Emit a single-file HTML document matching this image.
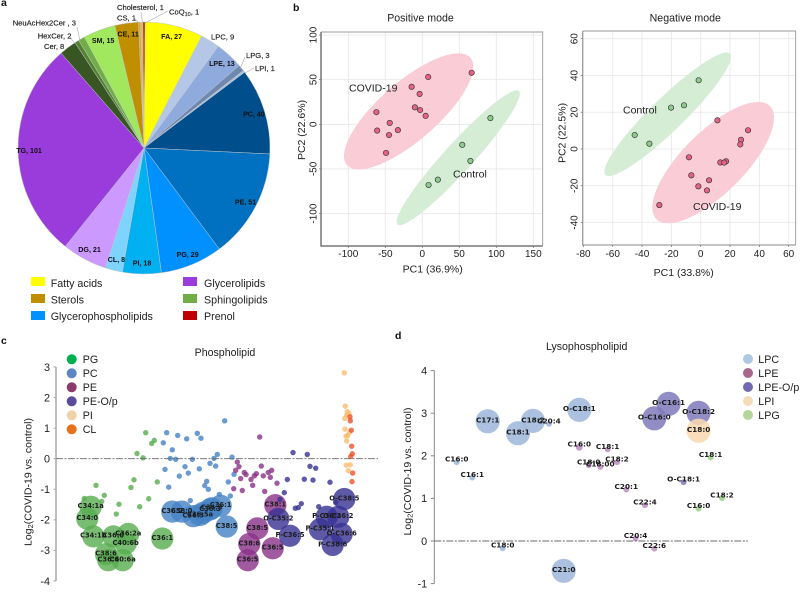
<!DOCTYPE html>
<html lang="en">
<head>
<meta charset="utf-8">
<title>Lipidomics figure</title>
<style>
html,body{margin:0;padding:0;background:#fff;}
svg{display:block;font-family:"Liberation Sans",Arial,sans-serif;fill:#222;}
.tick{font-size:10px;}
.axt{font-size:10.5px;}
.ttl{font-size:10.6px;}
.leg{font-size:10.7px;}
.pan{font-size:10.5px;font-weight:bold;fill:#111;}
.pout{font-size:7.6px;stroke:#222;stroke-width:.15px;}
.ldr{stroke:#aaa;stroke-width:.6;fill:none;}
.blab{font-family:"DejaVu Sans",sans-serif;font-weight:bold;fill:#1c1c1c;}
</style>
</head>
<body>
<svg id="fig" width="800" height="605" viewBox="0 0 800 605" xmlns="http://www.w3.org/2000/svg">
  <rect width="800" height="605" fill="#fff"/>

  <text class="pan" x="1" y="6">a</text>
  <text class="pan" x="293" y="11">b</text>
  <text class="pan" x="1" y="344">c</text>
  <text class="pan" x="395" y="339">d</text>

  <g id="pie"></g>
  <g>
    <path class="ldr" d="M141 12L142.5 23"/>
    <path class="ldr" d="M168 11L145 23"/>
    <path class="ldr" d="M134 18L139 23"/>
    <path class="ldr" d="M77 27L80 41"/>
    <path class="ldr" d="M70 37L75 44"/>
    <path class="ldr" d="M245 57L240 69"/>
    <path class="ldr" d="M254 68L245 73"/>
    <text class="pout" x="117" y="10">Cholesterol, 1</text>
    <text class="pout" x="169" y="14.5">CoQ<tspan font-size="5.5" dy="1.5">10</tspan><tspan dy="-1.5">, 1</tspan></text>
    <text class="pout" x="117" y="20.5">CS, 1</text>
    <text class="pout" x="12.7" y="25.5">NeuAcHex2Cer , 3</text>
    <text class="pout" x="37.7" y="38.5">HexCer, 2</text>
    <text class="pout" x="44" y="49">Cer, 8</text>
    <text class="pout" x="211" y="39.5">LPC, 9</text>
    <text class="pout" x="246" y="58">LPG, 3</text>
    <text class="pout" x="255" y="71">LPI, 1</text>
  </g>
  <g>
    <rect x="31" y="277" width="14" height="9" fill="#ffff00"/>
    <text class="leg" x="50.7" y="287">Fatty acids</text>
    <rect x="31" y="294" width="14" height="9" fill="#bf8f00"/>
    <text class="leg" x="50.7" y="303.5">Sterols</text>
    <rect x="31" y="311" width="14" height="9" fill="#0091ff"/>
    <text class="leg" x="50.7" y="320">Glycerophospholipids</text>
    <rect x="183" y="277" width="14" height="9" fill="#9a3cdb"/>
    <text class="leg" x="204" y="287">Glycerolipids</text>
    <rect x="183" y="294" width="14" height="9" fill="#70ad47"/>
    <text class="leg" x="204" y="303.5">Sphingolipids</text>
    <rect x="183" y="311" width="14" height="9" fill="#c00000"/>
    <text class="leg" x="204" y="320">Prenol</text>
  </g>

  <g id="pcaPos"></g>
  <g id="pcaNeg"></g>
  <text class="ttl" x="420.5" y="21.7" text-anchor="middle">Positive mode</text>
  <text class="ttl" x="685.3" y="21.7" text-anchor="middle">Negative mode</text>
  <text class="axt" x="432.7" y="272.7" text-anchor="middle">PC1 (36.9%)</text>
  <text class="axt" transform="translate(305.2 130) rotate(-90)" text-anchor="middle">PC2 (22.6%)</text>
  <text class="axt" x="683.7" y="276" text-anchor="middle">PC1 (33.8%)</text>
  <text class="axt" transform="translate(565.5 133) rotate(-90)" text-anchor="middle">PC2 (22.5%)</text>
  <text class="axt" x="349" y="91.7">COVID-19</text>
  <text class="axt" x="453" y="177.7">Control</text>
  <text class="axt" x="623" y="113.7">Control</text>
  <text class="axt" x="693" y="210">COVID-19</text>

  <g id="bubC"></g>
  <text class="ttl" x="225" y="356" text-anchor="middle">Phospholipid</text>
  <text class="axt" transform="translate(31.5 482) rotate(-90)" text-anchor="middle">Log<tspan font-size="7.5" dy="1.5">2</tspan><tspan dy="-1.5">(COVID-19 vs. control)</tspan></text>
  <g>
    <circle cx="71.7" cy="359.3" r="5" fill="#00b050"/>
    <text class="leg" x="82.7" y="363.2">PG</text>
    <circle cx="71.7" cy="373.3" r="5" fill="#5b87c5"/>
    <text class="leg" x="82.7" y="377.2">PC</text>
    <circle cx="71.7" cy="387.3" r="5" fill="#8c3a6e"/>
    <text class="leg" x="82.7" y="391.2">PE</text>
    <circle cx="71.7" cy="401.3" r="5" fill="#5c4a9c"/>
    <text class="leg" x="82.7" y="405.2">PE-O/p</text>
    <circle cx="71.7" cy="415.3" r="5" fill="#f0d0a8"/>
    <text class="leg" x="82.7" y="419.2">PI</text>
    <circle cx="71.7" cy="429.3" r="5" fill="#e8701a"/>
    <text class="leg" x="82.7" y="433.2">CL</text>
  </g>

  <g id="bubD"></g>
  <text class="ttl" x="586.7" y="350" text-anchor="middle">Lysophospholipid</text>
  <text class="axt" transform="translate(411 471.5) rotate(-90)" text-anchor="middle">Log<tspan font-size="7.5" dy="1.5">2</tspan><tspan dy="-1.5">(COVID-19 vs. control)</tspan></text>
  <g>
    <circle cx="748" cy="359" r="5" fill="#afc8e4"/>
    <text class="leg" x="758.3" y="363">LPC</text>
    <circle cx="748" cy="373" r="5" fill="#a8678c"/>
    <text class="leg" x="758.3" y="377">LPE</text>
    <circle cx="748" cy="387" r="5" fill="#7269b0"/>
    <text class="leg" x="758.3" y="391">LPE-O/p</text>
    <circle cx="748" cy="401" r="5" fill="#f3dcb8"/>
    <text class="leg" x="758.3" y="405">LPI</text>
    <circle cx="748" cy="415" r="5" fill="#b5d69a"/>
    <text class="leg" x="758.3" y="419">LPG</text>
  </g>
</svg>

<script>
/* ---------- Panel a data ---------- */
const pieNames = ['CoQ10','FA','LPC','LPE','LPG','LPI','PC','PE','PG','PI','CL','DG','TG','Cer','HexCer','NeuAcHex2Cer','SM','CE','CS','Cholesterol'];
const pieValues = [1,27,9,13,3,1,40,51,29,18,8,21,101,8,2,3,15,11,1,1];
const pieColors = ['#c00000','#ffff00','#b4c7e7','#8faadc','#6f88b0','#b0c0d8','#004f8c','#0070c0','#0091ff','#00b0f0','#7fd4ff','#cc99ff','#9a3cdb','#375623','#548235','#70ad47','#a2e85f','#bf8f00','#d9a93a','#e5b850'];
const pieInside = [0,1,0,1,0,0,1,1,1,1,1,1,1,0,0,0,1,1,0,0];

/* ---------- Panel b data ---------- */
const posXTicks = [-100,-50,0,50,100,150];
const posYTicks = [-100,-50,0,50,100];
const posCovidPC1 = [66.7,8,-14.4,-3.6,-10,-3,4.5,-62,-44,-61,-33,-45,-49];
const posCovidPC2 = [57.7,53,42,34,19,16,9.5,13.6,1.5,-7,-6.5,-12,-32];
const posControlPC1 = [92,54,65,21,8.5];
const posControlPC2 = [7,-23,-41,-62,-68];
const posCovidEllipse = [-18.5,14.5,87.4,65,0.77];
const posControlEllipse = [48.6,-37.4,83.3,75.5,0.95];

const negXTicks = [-80,-60,-40,-20,0,20,40,60];
const negYTicks = [-40,-20,0,20,40,60];
const negCovidPC1 = [11.4,32.3,27.5,27,-8,13.4,17.3,16,-6.4,5.7,-1.6,4.3,-28.2];
const negCovidPC2 = [15.6,10.2,5,2.5,-4.5,-7.3,-6.7,-7.4,-14.3,-17,-20.3,-22.5,-30.5];
const negControlPC1 = [-1.4,-11.4,-20.2,-45,-35];
const negControlPC2 = [37.4,23.8,22.5,7.6,2.9];
const negCovidEllipse = [8.5,-7.4,41.5,33,0.74];
const negControlEllipse = [-22.5,18.9,43.2,33.6,0.93];

/* ---------- Panel c data ---------- */
const cYTicks = [3,2,1,0,-1,-2,-3,-4];
const pgRank = [89.7,98.3,95.7,81,87,78,75,101.3,40,48.3,45.7,28.3,63,92.7,83.7,60.3,34.7,31.3,37.3,57.3,72.3,69.7,106.3,50,52.3,66.7];
const pgFold = [.85,.6,.5,.17,.03,-.69,-.94,-.76,-.87,-1.2,-1.4,-1.3,-1.49,-1.31,-1.57,-1.81,-1.57,-1.96,-2.54,-2.54,-2.46,-2.77,-2.61,-3.12,-3.32,-3.32];
const pgSize = [1,1,1,1,1,1,1,1,1,1,1,1,1,1,1,1,17,17,17,17,17,17,17,17,17,17];
const pgNames = ['','','','','','','','','','','','','','','','','C34:1a','C34:0','C34:1b','C36:0','C36:2a','C40:6b','C36:1','C38:6','C36:6','C40:6a'];

const pcRank = [110.7,121.7,130.7,141.3,145,107.3,116.3,114.3,119.7,136.3,154,129,143.3,109,123.3,132.3,112.7,150.7,148.7,152.3,134.3,168.7,161.3,158,176,159.7,178,172.3,163.3,174.3,116.3,125.7,137.3,144,147.3,154,155.7,164.7,170.7];
const pcFold = [.85,.76,.65,.83,.67,.52,.29,.01,-.02,-.02,-.15,-.26,-.33,-.35,-.57,-.47,-.93,-.74,-.88,-1,-1.37,1.24,.14,.01,.05,-.24,-.51,-.76,-1.17,-1.22,-1.73,-1.73,-1.88,-1.84,-1.77,-1.66,-1.62,-1.54,-2.22];
const pcSize = [1,1,1,1,1,1,1,1,1,1,1,1,1,1,1,1,1,1,1,1,1,1,1,1,1,1,1,1,1,1,17,17,17,17,17,17,17,17,17];
const pcNames = ['','','','','','','','','','','','','','','','','','','','','','','','','','','','','','','C36:2','C38:0','C36:3','C36:5a','','C36:3','C34:3','C36:1','C38:5'];

const peRank = [203.7,181.3,183,179.7,205.3,188.3,190,200.3,198.3,207.3,195,184.7,215.7,212.3,214.3,221,196.7,177.7,186.3,208.7,219.3,201.3,193.3,216.7,191.7];
const peFold = [.71,-.11,-.26,-.38,-.24,-.45,-.52,-.49,-.56,-.56,-.68,-.65,-.38,-.45,-.61,-.8,-.87,-.98,-1.04,-1.07,-1.52,-2.28,-2.79,-2.93,-3.32];
const peSize = [1,1,1,1,1,1,1,1,1,1,1,1,1,1,1,1,1,1,1,1,17,17,17,17,17];
const peNames = ['','','','','','','','','','','','','','','','','','','','','C38:1','C38:5','C38:6','C36:5','C36:5'];

const poRank = [237,251.3,254,259.7,231.3,248.3,257,274,228.3,245.3,242.3,239.3,262.7,279.7,224,288.3,222.3,234,270.7,282.3,264,285.7,276.7];
const poFold = [.2,.14,-.25,-.31,-.68,-.67,-.7,-.77,-1.11,-1.47,-1.6,-1.62,-1.57,-1.43,-1.33,-1.32,-1.97,-2.52,-1.9,-1.9,-2.31,-2.46,-2.82];
const poSize = [1,1,1,1,1,1,1,1,1,1,1,1,1,1,1,17,17,17,17,17,17,17,17];
const poNames = ['','','','','','','','','','','','','','','','O-C38:5','O-C35:2','P-C36:5','P-C36:2','O-C36:2','P-C35:1','O-C36:6','P-C38:6'];

const piRank = [288.3,289.3,291.3,293,290.7,288.7,289,293.7,291.7,290,290.7,290.3,294.3,292.3];
const piFold = [2.81,1.72,1.54,1.48,1.43,1.32,.97,.87,.76,.74,.58,-.21,-.2,-.39];
const piSize = [1,1,1,1,1,1,1,1,1,1,1,1,1,1];

const clRank = [294,294.3,295.3,295.7,296.3,294.7,296.7,296];
const clFold = [1.37,1.24,.93,.41,.16,.07,-.47,-.75];
const clSize = [1,1,1,1,1,1,1,1];

/* ---------- Panel d data ---------- */
const dYTicks = [4,3,2,1,0,-1];
const lpcRank = [22.4,38,53.4,83.7,98.7,114.7,145,68.4,129.4];
const lpcFold = [1.85,1.49,2.81,2.53,2.82,2.75,3.08,-.17,-.7];
const lpcSize = [1.2,1.2,20,20,20,1.2,20,1.2,20];
const lpcNames = ['C16:0','C16:1','C17:1','C18:1','C18:2','C20:4','O-C18:1','C18:0','C21:0'];

const lpeRank = [145,154.4,166,173.3,182.7,192,210.7,201.3,220];
const lpeFold = [2.2,1.78,1.74,2.15,1.85,1.21,.84,.06,-.18];
const lpeSize = [1.6,1.2,1.2,1.2,1.2,1.2,1.2,1.2,1.2];
const lpeNames = ['C16:0','C18:0','C18:00','C18:1','C18:2','C20:1','C22:4','C20:4','C22:6'];

const lpoRank = [234.3,220,264.3,249.3];
const lpoFold = [3.22,2.88,3.01,1.38];
const lpoSize = [20,20,20,1.2];
const lpoNames = ['O-C16:1','O-C16:0','O-C18:2','O-C18:1'];

const lpiRank = [264.3];
const lpiFold = [2.59];
const lpiSize = [20];
const lpiNames = ['C18:0'];

const lpgRank = [276.3,287.7,264.3];
const lpgFold = [1.96,1.01,.76];
const lpgSize = [1.2,1.2,1.2];
const lpgNames = ['C18:1','C18:2','C16:0'];

/* ---------- helpers ---------- */
const NS = 'http://www.w3.org/2000/svg';
function make(parent, tag, attrs, text) {
  const el = document.createElementNS(NS, tag);
  for (const k in attrs) el.setAttribute(k, attrs[k]);
  if (text !== undefined) el.textContent = text;
  parent.appendChild(el);
  return el;
}
function linear(d0, d1, r0, r1) {
  return v => r0 + (v - d0) * (r1 - r0) / (d1 - d0);
}
function radiusFromSize(s) { return 2.7 * Math.sqrt(s); }

/* ---------- pie ---------- */
(function () {
  const g = document.getElementById('pie');
  const cx = 144, cy = 148, R = 126, labelR = 115;
  const total = pieValues.reduce((a, b) => a + b, 0);
  let acc = -0.5 * total / 360;
  pieValues.forEach((v, i) => {
    const a0 = acc / total * 2 * Math.PI;
    const a1 = (acc + v) / total * 2 * Math.PI;
    acc += v;
    const large = a1 - a0 > Math.PI ? 1 : 0;
    const d = `M${cx} ${cy}L${cx + R * Math.sin(a0)} ${cy - R * Math.cos(a0)}A${R} ${R} 0 ${large} 1 ${cx + R * Math.sin(a1)} ${cy - R * Math.cos(a1)}Z`;
    const p = make(g, 'path', {d: d, fill: pieColors[i], stroke: '#c4c8cc', 'stroke-width': 0.5});
    
    
  });
  acc = -0.5 * total / 360;
  pieValues.forEach((v, i) => {
    const mid = (acc + v / 2) / total * 2 * Math.PI;
    acc += v;
    if (!pieInside[i]) return;
    const t = make(g, 'text', {
      x: cx + labelR * Math.sin(mid),
      y: cy - labelR * Math.cos(mid) + 2.5,
      'text-anchor': 'middle',
      'font-size': 7.1,
      'font-weight': 'bold',
      fill: '#111'
    }, pieNames[i] + ', ' + v);
    
    
  });
})();

/* ---------- PCA panels ---------- */
function drawPca(gid, box, sx, sy, xTicks, yTicks, ellipses, groups, tickX, tickY, frameColor, axisWidth) {
  const g = document.getElementById(gid);
  xTicks.forEach(t => {
    const l = make(g, 'line', {x1: sx(t), x2: sx(t), y1: box.top, y2: box.bottom, stroke: '#e7e7e7', 'stroke-width': 0.8});
    
    
    const m = make(g, 'line', {x1: sx(t), x2: sx(t), y1: box.bottom, y2: box.bottom + 2, stroke: '#666', 'stroke-width': 0.7});
    
    
    const tl = make(g, 'text', {class: 'tick', x: sx(t), y: tickY, 'text-anchor': 'middle'}, String(t));
    
    
  });
  yTicks.forEach(t => {
    const l = make(g, 'line', {x1: box.left, x2: box.right, y1: sy(t), y2: sy(t), stroke: '#e7e7e7', 'stroke-width': 0.8});
    
    
    const m = make(g, 'line', {x1: box.left - 2, x2: box.left, y1: sy(t), y2: sy(t), stroke: '#666', 'stroke-width': 0.7});
    
    
    const tl = make(g, 'text', {class: 'tick', transform: `translate(${tickX} ${sy(t)}) rotate(-90)`, 'text-anchor': 'middle'}, String(t));
    
    
  });
  ellipses.forEach(e => {
    const [cx, cy, ax, ay, rho] = e.params;
    let d = '';
    for (let k = 0; k <= 96; k++) {
      const t = k / 96 * 2 * Math.PI;
      const dx = cx + ax * Math.cos(t);
      const dy = cy + ay * (rho * Math.cos(t) + Math.sqrt(1 - rho * rho) * Math.sin(t));
      d += (k ? 'L' : 'M') + sx(dx).toFixed(2) + ' ' + sy(dy).toFixed(2);
    }
    const p = make(g, 'path', {d: d + 'Z', fill: e.fill});
    
    
  });
  groups.forEach(s => {
    s.xs.forEach((v, i) => {
      const c = make(g, 'circle', {cx: sx(v), cy: sy(s.ys[i]), r: 2.7, fill: s.fill, stroke: '#3a3a3a', 'stroke-width': 0.7});
      
      
    });
  });
  const f = make(g, 'path', {d: `M${box.left} ${box.top}H${box.right}V${box.bottom}`, fill: 'none', stroke: '#999', 'stroke-width': 0.9});
  
  
  const a = make(g, 'path', {d: `M${box.left} ${box.top}V${box.bottom}H${box.right}`, fill: 'none', stroke: frameColor, 'stroke-width': axisWidth});
  
  
}
drawPca('pcaPos', {left: 321, right: 542.7, top: 32, bottom: 246},
  linear(0, 100, 422.3, 496.3), linear(0, 100, 124.3, 35),
  posXTicks, posYTicks,
  [{params: posCovidEllipse, fill: '#f9ccd6', name: 'covid-ellipse'}, {params: posControlEllipse, fill: '#d5edd5', name: 'control-ellipse'}],
  [{xs: posCovidPC1, ys: posCovidPC2, fill: '#e8608a', name: 'covid-sample'}, {xs: posControlPC1, ys: posControlPC2, fill: '#8bcb8b', name: 'control-sample'}],
  316.5, 257, '#777', 1.5);
drawPca('pcaNeg', {left: 582.7, right: 795.7, top: 31, bottom: 245},
  linear(0, 60, 700.7, 788.7), linear(0, 60, 149, 38.7),
  negXTicks, negYTicks,
  [{params: negCovidEllipse, fill: '#f9ccd6', name: 'covid-ellipse'}, {params: negControlEllipse, fill: '#d5edd5', name: 'control-ellipse'}],
  [{xs: negCovidPC1, ys: negCovidPC2, fill: '#e8608a', name: 'covid-sample'}, {xs: negControlPC1, ys: negControlPC2, fill: '#8bcb8b', name: 'control-sample'}],
  577.5, 257, '#888', 1);

/* ---------- bubble panels ---------- */
function drawBubbles(gid, axisX, axisEnd, sy, ticks, axisColor, axisWidth, tickLeft, labelFont, labelLift, series) {
  const g = document.getElementById(gid);
  const sx = linear(0, 1, axisX, axisX + 1);
  const axis = make(g, 'line', {x1: axisX, x2: axisX, y1: sy(ticks[0]), y2: sy(ticks[ticks.length - 1]), stroke: axisColor, 'stroke-width': axisWidth});
  
  
  ticks.forEach(t => {
    const m = make(g, 'line', {x1: tickLeft, x2: axisX, y1: sy(t), y2: sy(t), stroke: axisColor, 'stroke-width': 1});
    
    
    const tl = make(g, 'text', {x: tickLeft - 3.5, y: sy(t) + 3.8, 'text-anchor': 'end', 'font-size': 10.8}, String(t));
    
    
  });
  series.forEach(s => {
    s.xs.forEach((v, i) => {
      const c = make(g, 'circle', {cx: sx(v), cy: sy(s.ys[i]), r: radiusFromSize(s.sizes[i]), fill: s.fill, 'fill-opacity': s.alpha});
      
      
    });
  });
  const base = make(g, 'line', {x1: axisX, x2: axisEnd, y1: sy(0), y2: sy(0), stroke: '#666', 'stroke-width': 0.9, 'stroke-dasharray': '7 1.5 2 1.5'});
  
  
  series.forEach(s => {
    if (!s.names) return;
    s.names.forEach((n, i) => {
      if (!n) return;
      const lift = s.sizes[i] < 3 ? labelLift : 1;
      const t = make(g, 'text', {class: 'blab', x: sx(s.xs[i]), y: sy(s.ys[i]) + 2.4 - lift, 'text-anchor': 'middle', 'font-size': labelFont}, n);
      
      
    });
  });
}
drawBubbles('bubC', 56, 378, linear(0, 1, 458.7, 428.13), cYTicks, '#aaa', 1.5, 53.5, 6.7, 0, [
  {xs: pgRank, ys: pgFold, sizes: pgSize, names: pgNames, fill: '#58ad50', alpha: .8, name: 'pg-bubble'},
  {xs: pcRank, ys: pcFold, sizes: pcSize, names: pcNames, fill: '#4582c4', alpha: .8, name: 'pc-bubble'},
  {xs: peRank, ys: peFold, sizes: peSize, names: peNames, fill: '#893188', alpha: .8, name: 'pe-bubble'},
  {xs: poRank, ys: poFold, sizes: poSize, names: poNames, fill: '#373192', alpha: .8, name: 'pe-op-bubble'},
  {xs: piRank, ys: piFold, sizes: piSize, fill: '#fabd72', alpha: .8, name: 'pi-bubble'},
  {xs: clRank, ys: clFold, sizes: clSize, fill: '#ec5227', alpha: .8, name: 'cl-bubble'}
]);
drawBubbles('bubD', 434.3, 748, linear(0, 1, 541, 498.4), dYTicks, '#888', 1, 430.7, 7.3, 3, [
  {xs: lpcRank, ys: lpcFold, sizes: lpcSize, names: lpcNames, fill: '#a4bcdc', alpha: .92, name: 'lpc-bubble'},
  {xs: lpeRank, ys: lpeFold, sizes: lpeSize, names: lpeNames, fill: '#c295c6', alpha: .92, name: 'lpe-bubble'},
  {xs: lpoRank, ys: lpoFold, sizes: lpoSize, names: lpoNames, fill: '#7f79bb', alpha: .85, name: 'lpe-op-bubble'},
  {xs: lpiRank, ys: lpiFold, sizes: lpiSize, names: lpiNames, fill: '#f8d9b2', alpha: .88, name: 'lpi-bubble'},
  {xs: lpgRank, ys: lpgFold, sizes: lpgSize, names: lpgNames, fill: '#9fd48f', alpha: .92, name: 'lpg-bubble'}
]);
</script>
</body>
</html>
